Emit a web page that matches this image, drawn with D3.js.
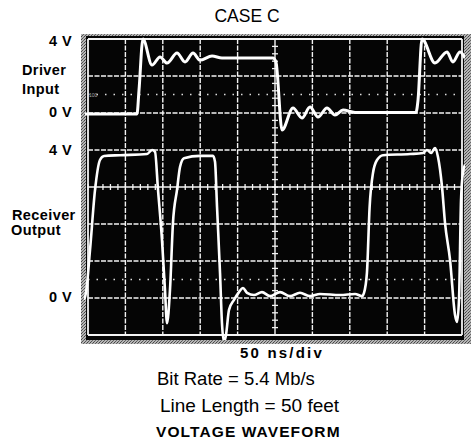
<!DOCTYPE html>
<html>
<head>
<meta charset="utf-8">
<script src="https://cdn.jsdelivr.net/npm/d3@7/dist/d3.min.js"></script>
<style>
  html, body { margin: 0; padding: 0; background: #fff; }
  svg { display: block; }
  text { font-family: "Liberation Sans", Arial, Helvetica, sans-serif; fill: #000; }
</style>
</head>
<body>
<svg id="chart" width="471" height="442"></svg>
<script>
// ---- Data (time in ns, voltage in V) ----
const timeTicks = [0, 50, 100, 150, 200, 250, 300, 350, 400, 450, 500];   // 50 ns/div
const driverTime = [-4, 65.5, 68.2, 73.5, 85.6, 96.3, 105.6, 119.0, 129.7, 140.4, 149.7, 165.8, 179.1,
  247.3, 251.3, 259.4, 274.1, 286.1, 296.8, 307.5, 319.5, 330.2, 340.9, 357, 438.5, 441.2, 446.5,
  463.9, 479.9, 487.9, 497.3, 504];
const driverVolt = [-0.05, -0.05, 1.24, 4.0, 2.59, 3.03, 2.70, 3.24, 2.76, 3.24, 2.86, 3.08, 2.97,
  2.97, 2.76, -0.92, 0.27, -0.27, 0.32, -0.22, 0.27, -0.11, 0.16, 0.03, 0.03, 0.70, 4.0,
  2.70, 3.30, 2.76, 3.30, 2.97];
const receiverTime = [-5.3, -2.7, 2.7, 9.4, 16.0, 21.4, 42.8, 78.9, 85.6, 89.6, 93.6, 98.9, 102.9, 105.6,
  109.6, 113.6, 119.0, 123.0, 128.3, 149.7, 167.1, 169.8, 172.5, 176.5, 179.1, 181.8, 184.5, 188.5,
  195.2, 201.9, 207.2, 212.6, 221.9, 232.6, 243.3, 256.7, 270, 283.4, 296.8, 310.2, 337, 357, 366.3,
  369, 372.9, 376.5, 381, 386.4, 394.4, 430.5, 447.9, 453.2, 458.6, 463.9, 467.9, 473.3, 477.3, 484,
  490.7, 493.3, 496, 498.7, 501.4, 504];
const receiverVolt = [-0.05, 0.14, 1.30, 2.92, 3.73, 3.84, 3.86, 3.89, 4.0, 3.95, 2.92, 1.57, 0.22, -0.68,
  0.22, 2.03, 2.92, 3.54, 3.78, 3.84, 3.84, 3.68, 2.46, 0.68, -0.68, -1.19, -1.0, -0.32,
  -0.05, 0.16, 0.27, 0.14, 0.08, 0.16, 0.05, 0.16, 0.05, 0.14, 0.05, 0.11, 0.08, 0.11, 0.05,
  0.14, 0.68, 2.46, 3.38, 3.73, 3.86, 3.89, 3.92, 4.0, 3.92, 4.05, 3.81, 3.0, 2.03, 1.03,
  -0.46, -0.65, -0.05, 2.65, 3.41, 3.6];
const title = "CASE C";
const sideLabels = ["4 V", "Driver", "Input", "0 V", "4 V", "Receiver", "Output", "0 V"];
const footLabels = ["50 ns/div", "Bit Rate = 5.4 Mb/s", "Line Length = 50 feet", "VOLTAGE WAVEFORM"];

// ---- Scales ----
const svg = d3.select("#chart");
const divX = d3.scaleLinear().domain([0, 10]).range([88, 462]);
const divY = d3.scaleLinear().domain([0, 8]).range([39, 335]);
const x = d3.scaleLinear().domain([0, 500]).range([88, 462]);
const yDrv = d3.scaleLinear().domain([0, 4]).range([divY(2), divY(0)]);
const yRcv = d3.scaleLinear().domain([0, 4]).range([divY(7), divY(3)]);

// ---- Screen ----
const defs = svg.append("defs");
const pat = defs.append("pattern").attr("id", "speck").attr("width", 3).attr("height", 3)
  .attr("patternUnits", "userSpaceOnUse");
pat.append("rect").attr("width", 3).attr("height", 3).attr("fill", "#b5b5b5");
pat.append("rect").attr("x", 0).attr("y", 0).attr("width", 1).attr("height", 1).attr("fill", "#444");
pat.append("rect").attr("x", 2).attr("y", 1).attr("width", 1).attr("height", 1).attr("fill", "#666");
pat.append("rect").attr("x", 1).attr("y", 2).attr("width", 1).attr("height", 1).attr("fill", "#555");

svg.append("rect").attr("x", 81).attr("y", 34).attr("width", 390).attr("height", 310).attr("fill", "url(#speck)");
svg.append("rect").attr("x", 86).attr("y", 36).attr("width", 378).attr("height", 304).attr("fill", "#050505");

defs.append("clipPath").attr("id", "scr").append("rect")
  .attr("x", 84).attr("y", 36).attr("width", 381).attr("height", 304);

const grid = svg.append("g").attr("clip-path", "url(#scr)");
// vertical graticule lines
grid.selectAll("line.v").data(d3.range(0, 11)).join("line")
  .attr("x1", d => divX(d)).attr("x2", d => divX(d))
  .attr("y1", divY(0)).attr("y2", divY(8))
  .attr("stroke", "#f4f4f4").attr("stroke-width", d => (d === 0 || d === 10) ? 1.8 : 1.4)
  .attr("stroke-dasharray", d => (d === 0 || d === 10 || d === 5) ? null : "5,1.5");
// horizontal graticule lines
grid.selectAll("line.h").data(d3.range(0, 9)).join("line")
  .attr("x1", divX(0)).attr("x2", divX(10))
  .attr("y1", d => divY(d)).attr("y2", d => divY(d))
  .attr("stroke", "#f4f4f4").attr("stroke-width", d => (d === 0 || d === 8) ? 1.8 : 1.4)
  .attr("stroke-dasharray", d => (d === 0 || d === 8 || d === 4) ? null : "5,1.5");
// dotted reference lines
grid.selectAll("line.dot").data([1.5, 6.5]).join("line")
  .attr("x1", divX(0)).attr("x2", divX(10))
  .attr("y1", d => divY(d)).attr("y2", d => divY(d))
  .attr("stroke", "#ddd").attr("stroke-width", 1.4).attr("stroke-dasharray", "1.5,7");
// centre-line minor ticks
const minor = d3.range(0, 50.01, 1).map(d => d / 5);
grid.selectAll("line.tx").data(minor).join("line")
  .attr("x1", d => divX(d)).attr("x2", d => divX(d))
  .attr("y1", divY(4) - 3).attr("y2", divY(4) + 3)
  .attr("stroke", "#f4f4f4").attr("stroke-width", 1.3);
const minorY = d3.range(0, 40.01, 1).map(d => d / 5);
grid.selectAll("line.ty").data(minorY).join("line")
  .attr("x1", divX(5) - 3).attr("x2", divX(5) + 3)
  .attr("y1", d => divY(d)).attr("y2", d => divY(d))
  .attr("stroke", "#f4f4f4").attr("stroke-width", 1.3);
grid.append("text").attr("x", 89).attr("y", 97).text("100")
  .style("font-size", "5px").style("fill", "#aaa");

// ---- Traces ----
const traces = svg.append("g").attr("clip-path", "url(#scr)");
const drvData = driverTime.map((t, i) => [t, driverVolt[i]]);
const rcvData = receiverTime.map((t, i) => [t, receiverVolt[i]]);
const lineD = d3.line().x(d => x(d[0])).y(d => yDrv(d[1])).curve(d3.curveMonotoneX);
const lineR = d3.line().x(d => x(d[0])).y(d => yRcv(d[1])).curve(d3.curveMonotoneX);
traces.append("path").attr("d", lineD(drvData)).attr("fill", "none")
  .attr("stroke", "#fff").attr("stroke-width", 3).attr("stroke-linejoin", "round");
traces.append("path").attr("d", lineR(rcvData)).attr("fill", "none")
  .attr("stroke", "#fff").attr("stroke-width", 2.6).attr("stroke-linejoin", "round");

// ---- Text ----
svg.append("text").attr("x", 247).attr("y", 22).attr("text-anchor", "middle")
  .style("font-size", "17.5px").text(title);
const sidePos = [
  {x: 72, y: 46, a: "end"}, {x: 22, y: 75, a: "start"}, {x: 22, y: 94, a: "start"}, {x: 72, y: 117, a: "end"},
  {x: 72, y: 155, a: "end"}, {x: 12, y: 220, a: "start"}, {x: 11, y: 235, a: "start"}, {x: 72, y: 302, a: "end"}
];
svg.selectAll("text.side").data(sideLabels).join("text")
  .attr("x", (d, i) => sidePos[i].x).attr("y", (d, i) => sidePos[i].y)
  .attr("text-anchor", (d, i) => sidePos[i].a)
  .style("font-size", "14.5px").style("font-weight", "bold")
  .style("letter-spacing", "0.4px")
  .text(d => d.replace(" ", "\u00a0"));

svg.append("text").attr("x", 240).attr("y", 358).style("font-size", "15px").style("font-weight", "bold")
  .style("letter-spacing", "2.2px").text(footLabels[0]);
svg.append("text").attr("x", 157).attr("y", 385).style("font-size", "18.5px").text(footLabels[1]);
svg.append("text").attr("x", 160).attr("y", 412).style("font-size", "19px").text(footLabels[2]);
svg.append("text").attr("x", 156).attr("y", 437).style("font-size", "15.5px").style("font-weight", "bold")
  .style("letter-spacing", "1.1px").text(footLabels[3]);
</script>
</body>
</html>
